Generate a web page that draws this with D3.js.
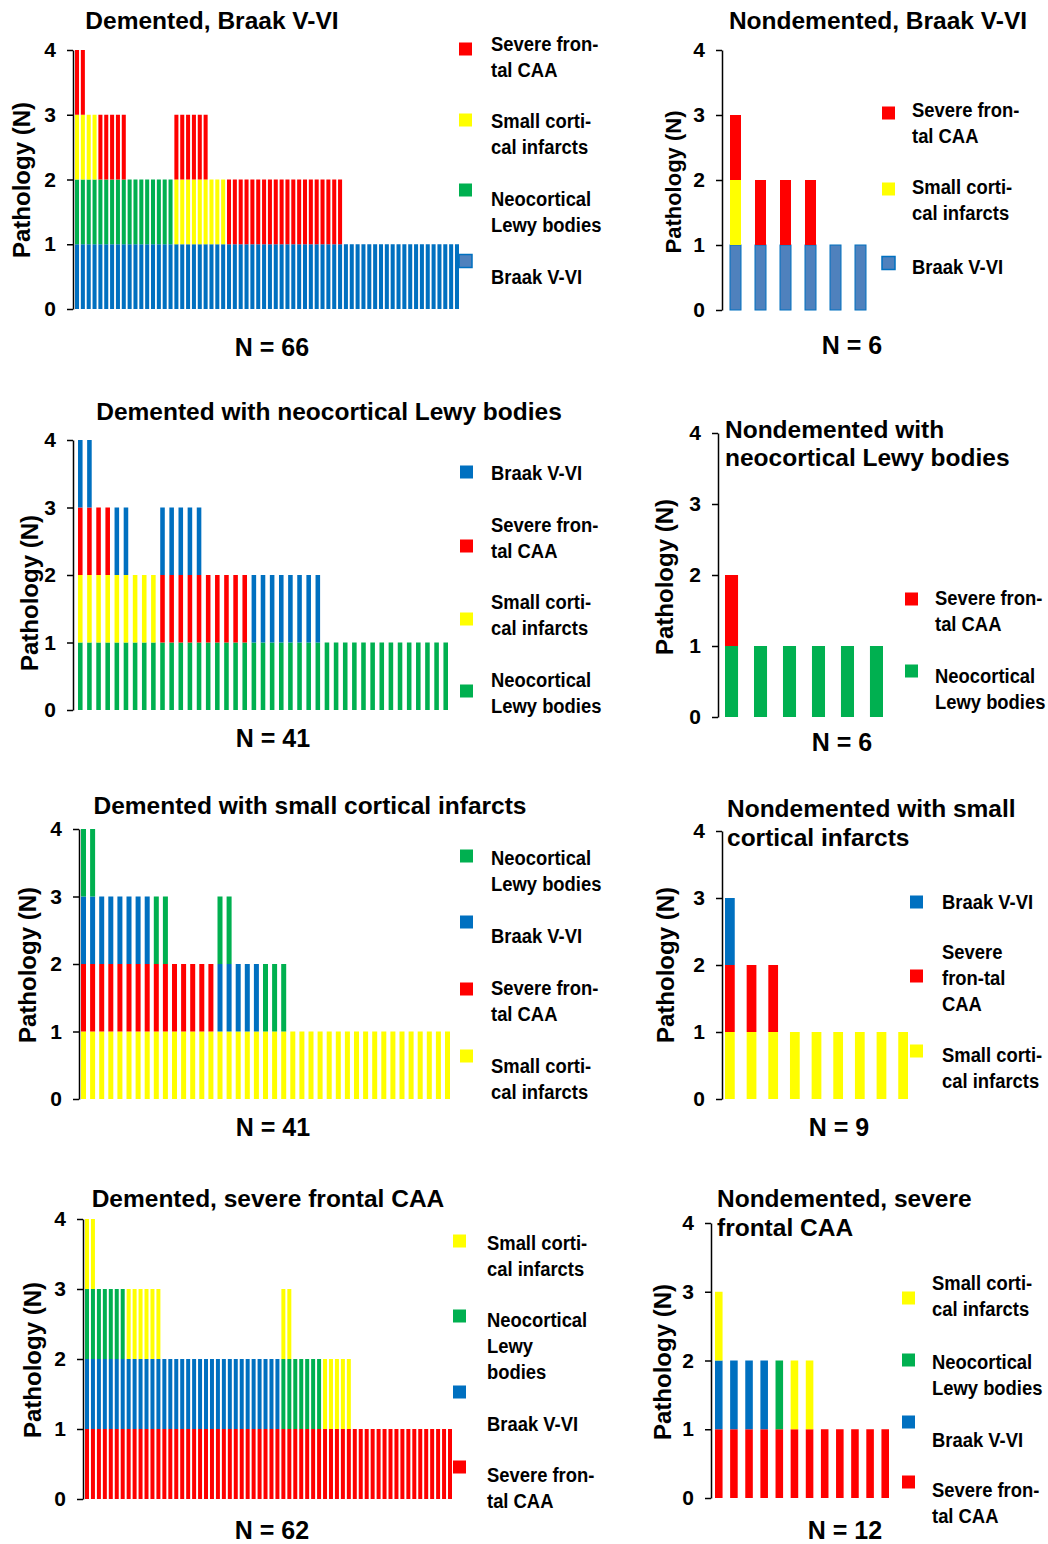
<!DOCTYPE html>
<html>
<head>
<meta charset="utf-8">
<script src="https://cdn.jsdelivr.net/npm/d3@7"></script>
<style>
  body { margin: 0; background: #fff; }
  text { font-family: "Liberation Sans", Arial, sans-serif; font-weight: bold; fill: #000; }
</style>
</head>
<body>
<script>
// pathology codes, stacked bottom -> top in each bar string
// B = Braak V-VI, C = severe frontal CAA, S = small cortical infarcts, L = neocortical Lewy bodies
const colors = { B: "#0070C0", C: "#FF0000", S: "#FFFF00", L: "#00B050" };
const labels = {
  B: ["Braak V-VI"],
  C: ["Severe fron-", "tal CAA"],
  S: ["Small corti-", "cal infarcts"],
  L: ["Neocortical", "Lewy bodies"],
};
const yTicks = [0, 1, 2, 3, 4];

// one string per case
const dementedBraak = [
  "BLSC", "BLSC", "BLS", "BLS",
  "BLC", "BLC", "BLC", "BLC", "BLC",
  "BL", "BL", "BL", "BL", "BL", "BL", "BL", "BL",
  "BSC", "BSC", "BSC", "BSC", "BSC", "BSC",
  "BS", "BS", "BS",
  "BC", "BC", "BC", "BC", "BC", "BC", "BC", "BC", "BC", "BC",
  "BC", "BC", "BC", "BC", "BC", "BC", "BC", "BC", "BC", "BC",
  "B", "B", "B", "B", "B", "B", "B", "B", "B", "B",
  "B", "B", "B", "B", "B", "B", "B", "B", "B", "B",
];
const nondementedBraak = ["BSC", "BC", "BC", "BC", "B", "B"];

const dementedLewy = [
  "LSCB", "LSCB", "LSC", "LSC", "LSB", "LSB", "LS", "LS", "LS",
  "LCB", "LCB", "LCB", "LCB", "LCB",
  "LC", "LC", "LC", "LC", "LC",
  "LB", "LB", "LB", "LB", "LB", "LB", "LB", "LB",
  "L", "L", "L", "L", "L", "L", "L", "L", "L", "L", "L", "L", "L", "L",
];
const nondementedLewy = ["LC", "L", "L", "L", "L", "L"];

const dementedInfarcts = [
  "SCBL", "SCBL",
  "SCB", "SCB", "SCB", "SCB", "SCB", "SCB",
  "SCL", "SCL",
  "SC", "SC", "SC", "SC", "SC",
  "SBL", "SBL", "SB", "SB", "SB", "SL", "SL", "SL",
  "S", "S", "S", "S", "S", "S", "S", "S", "S",
  "S", "S", "S", "S", "S", "S", "S", "S", "S",
];
const nondementedInfarcts = ["SCB", "SC", "SC", "S", "S", "S", "S", "S", "S"];

const dementedCAA = [
  "CBLS", "CBLS",
  "CBL", "CBL", "CBL", "CBL", "CBL",
  "CBS", "CBS", "CBS", "CBS", "CBS", "CBS",
  "CB", "CB", "CB", "CB", "CB", "CB", "CB", "CB", "CB", "CB",
  "CB", "CB", "CB", "CB", "CB", "CB", "CB", "CB", "CB", "CB",
  "CLS", "CLS",
  "CL", "CL", "CL", "CL", "CL",
  "CS", "CS", "CS", "CS", "CS",
  "C", "C", "C", "C", "C", "C", "C", "C", "C",
  "C", "C", "C", "C", "C", "C", "C", "C",
];
const nondementedCAA = ["CBS", "CB", "CB", "CB", "CL", "CS", "CS", "C", "C", "C", "C", "C"];

// layout of the eight panels (positions only)
const panels = [
  { title: ["Demented, Braak V-VI"], anchor: "middle", tx: 212, ty: [20], bars: dementedBraak,
    x0: 75, x1: 459, pad: 0.31, ax: 73, y0: 309, y4: 50, ylab: [22, 180, 24],
    keys: ["C", "S", "L", "B"], lx: 459, ltx: 491, lsq: [49, 120, 190, 261], lty: [44, 121, 199, 277],
    n: "N = 66", nx: 272, ny: 347, braakLegendOutline: true },
  { title: ["Nondemented, Braak V-VI"], anchor: "middle", tx: 878, ty: [20], bars: nondementedBraak,
    x0: 730, x1: 866, pad: 0.56, ax: 722, y0: 310, y4: 50, ylab: [673, 182, 22],
    keys: ["C", "S", "B"], lx: 882, ltx: 912, lsq: [113, 189, 263], lty: [110, 187, 267],
    n: "N = 6", nx: 852, ny: 345, braakLegendOutline: true, braakBarOutline: true },
  { title: ["Demented with neocortical Lewy bodies"], anchor: "middle", tx: 329, ty: [411], bars: dementedLewy,
    x0: 78, x1: 448, pad: 0.5, ax: 73, y0: 710, y4: 440, ylab: [30, 593, 24],
    keys: ["B", "C", "S", "L"], lx: 460, ltx: 491, lsq: [472, 546, 619, 691], lty: [473, 525, 602, 680],
    n: "N = 41", nx: 273, ny: 738 },
  { title: ["Nondemented with", "neocortical Lewy bodies"], anchor: "start", tx: 725, ty: [429, 457], bars: nondementedLewy,
    x0: 725, x1: 883, pad: 0.55, ax: 718, y0: 717, y4: 433, ylab: [665, 577, 24],
    keys: ["C", "L"], lx: 905, ltx: 935, lsq: [599, 671], lty: [598, 676],
    n: "N = 6", nx: 842, ny: 742 },
  { title: ["Demented with small cortical infarcts"], anchor: "middle", tx: 310, ty: [805], bars: dementedInfarcts,
    x0: 81, x1: 450, pad: 0.45, ax: 79, y0: 1099, y4: 829, ylab: [28, 965, 24],
    keys: ["L", "B", "C", "S"], lx: 460, ltx: 491, lsq: [856, 922, 989, 1056], lty: [858, 936, 988, 1066],
    n: "N = 41", nx: 273, ny: 1127 },
  { title: ["Nondemented with small", "cortical infarcts"], anchor: "start", tx: 727, ty: [808, 837], bars: nondementedInfarcts,
    x0: 725, x1: 908, pad: 0.55, ax: 722, y0: 1099, y4: 831, ylab: [666, 965, 24],
    keys: ["B", "C", "S"], lx: 910, ltx: 942, lsq: [902, 976, 1051], lty: [902, 952, 1055],
    labelOverride: { C: ["Severe", "fron-tal", "CAA"] },
    n: "N = 9", nx: 839, ny: 1127 },
  { title: ["Demented, severe frontal CAA"], anchor: "middle", tx: 268, ty: [1198], bars: dementedCAA,
    x0: 85, x1: 452, pad: 0.33, ax: 83, y0: 1499, y4: 1219, ylab: [33, 1360, 24],
    keys: ["S", "L", "B", "C"], lx: 453, ltx: 487, lsq: [1241, 1316, 1392, 1467], lty: [1243, 1320, 1424, 1475],
    labelOverride: { L: ["Neocortical", "Lewy", "bodies"] },
    n: "N = 62", nx: 272, ny: 1530 },
  { title: ["Nondemented, severe", "frontal CAA"], anchor: "start", tx: 717, ty: [1198, 1227], bars: nondementedCAA,
    x0: 715, x1: 889, pad: 0.5, ax: 711, y0: 1498, y4: 1223, ylab: [663, 1362, 24],
    keys: ["S", "L", "B", "C"], lx: 902, ltx: 932, lsq: [1298, 1360, 1422, 1482], lty: [1283, 1362, 1440, 1490],
    n: "N = 12", nx: 845, ny: 1530 },
];

const width = 1048;
const height = 1544;

const svg = d3.select("body").append("svg")
  .attr("width", width)
  .attr("height", height)
  .attr("viewBox", [0, 0, width, height]);

function drawPanel(p) {
  const g = svg.append("g");

  const x = d3.scaleBand()
    .domain(d3.range(p.bars.length))
    .range([p.x0, p.x1])
    .paddingInner(p.pad)
    .paddingOuter(0);
  const y = d3.scaleLinear().domain([0, 4]).range([p.y0, p.y4]);

  // stacked segments, one per pathology in each case
  const segs = p.bars.flatMap((s, i) =>
    s.split("").map((k, j) => ({ i, k, lo: j, hi: j + 1 })));

  g.selectAll("rect.seg")
    .data(segs)
    .join("rect")
    .attr("class", "seg")
    .attr("x", (d) => x(d.i))
    .attr("width", x.bandwidth())
    .attr("y", (d) => y(d.hi))
    .attr("height", (d) => y(d.lo) - y(d.hi))
    .attr("fill", (d) => (d.k === "B" && p.braakBarOutline ? "#4F81BD" : colors[d.k]))
    .attr("stroke", (d) => (d.k === "B" && p.braakBarOutline ? "#0070C0" : "none"))
    .attr("stroke-width", 1);

  // y axis
  const axis = g.append("g")
    .attr("transform", `translate(${p.ax},0)`)
    .call(d3.axisLeft(y).tickValues(yTicks).tickFormat(d3.format("d")).tickSize(6).tickSizeOuter(0).tickPadding(11));
  axis.select(".domain").attr("stroke", "#000").attr("stroke-width", 1.5);
  axis.selectAll(".tick line").attr("stroke", "#000").attr("stroke-width", 1.5);
  axis.selectAll(".tick text")
    .attr("font-size", 21)
    .attr("font-family", "'Liberation Sans', Arial, sans-serif")
    .attr("font-weight", "bold")
    .attr("fill", "#000");

  // y label
  g.append("text")
    .attr("transform", `translate(${p.ylab[0]},${p.ylab[1]}) rotate(-90)`)
    .attr("text-anchor", "middle")
    .attr("dy", "0.35em")
    .attr("font-size", p.ylab[2])
    .text("Pathology (N)");

  // title
  g.selectAll("text.title")
    .data(p.title)
    .join("text")
    .attr("class", "title")
    .attr("x", p.tx)
    .attr("y", (d, i) => p.ty[i])
    .attr("dy", "0.36em")
    .attr("text-anchor", p.anchor)
    .attr("font-size", 24.5)
    .text((d) => d);

  // N label
  g.append("text")
    .attr("x", p.nx)
    .attr("y", p.ny)
    .attr("dy", "0.36em")
    .attr("text-anchor", "middle")
    .attr("font-size", 25)
    .text(p.n);

  // legend
  const over = p.labelOverride || {};
  p.keys.forEach((k, i) => {
    const outline = k === "B" && p.braakLegendOutline;
    g.append("rect")
      .attr("x", p.lx)
      .attr("y", p.lsq[i] - 6.5)
      .attr("width", 13)
      .attr("height", 13)
      .attr("fill", outline ? "#4F81BD" : colors[k])
      .attr("stroke", outline ? "#0070C0" : "none")
      .attr("stroke-width", 1.5);
    const lines = over[k] || labels[k];
    g.append("g")
      .selectAll("text")
      .data(lines)
      .join("text")
      .attr("class", "leg")
      .attr("x", p.ltx)
      .attr("y", (d, j) => p.lty[i] + j * 26)
      .attr("dy", "0.35em")
      .attr("font-size", 20)
      .text((d) => d);
  });
}

panels.forEach(drawPanel);

// legend text in the source is a little narrower than plain Arial bold
svg.selectAll("text.leg").each(function () {
  const w = this.getComputedTextLength();
  d3.select(this).attr("textLength", w * 0.92).attr("lengthAdjust", "spacingAndGlyphs");
});
</script>
</body>
</html>
